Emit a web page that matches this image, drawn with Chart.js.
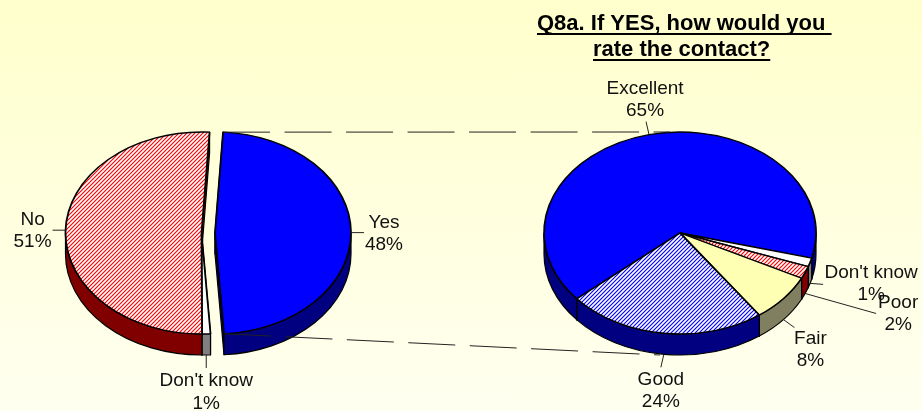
<!DOCTYPE html>
<html>
<head>
<meta charset="utf-8">
<style>
html,body{margin:0;padding:0;width:922px;height:411px;overflow:hidden;background:linear-gradient(180deg,#ffffcc 0%,#fffff0 100%);}
canvas{position:absolute;left:0;top:0;}
</style>
<script src="https://cdn.jsdelivr.net/npm/chart.js@4"></script>
</head>
<body>
<canvas id="left" width="922" height="411"></canvas>
<canvas id="right" width="922" height="411"></canvas>
<script>
// ---- data ----
const leftCategories = ["Yes", "Don't know", "No"];
const leftValues = [48, 1, 51];
const rightCategories = ["Excellent", "Don't know", "Poor", "Fair", "Good"];
const rightValues = [65.3, 1.4, 2, 7.7, 23.6];
const titleLines = ["Q8a. If YES, how would you ", "rate the contact?"];

// ---- appearance ----
const FONT = '"Liberation Sans", Arial, sans-serif';
const RX = 136, RY = 101, DEPTH = 21, K = RY / RX;
function hatch(color) {
  const c = document.createElement('canvas');
  c.width = c.height = 4;
  const g = c.getContext('2d');
  g.fillStyle = '#fff'; g.fillRect(0, 0, 4, 4);
  g.strokeStyle = color; g.lineWidth = 1.15;
  g.beginPath();
  g.moveTo(-1, 1); g.lineTo(1, -1);
  g.moveTo(-1, 5); g.lineTo(5, -1);
  g.moveTo(3, 5); g.lineTo(5, 3);
  g.stroke();
  const p = g.createPattern(c, 'repeat');
  p.setTransform(new DOMMatrix().scale(1, 1 / K));
  return p;
}
const BLUE = '#0000ff', NAVY = '#000080', MAROON = '#800000', GREY = '#808080';
const leftStyle = {
  center: [201.5, 233], rotation: 3.4,
  explode: [13.5, 0, 0],
  fill: [BLUE, '#ffffff', hatch('#ff0000')],
  side: [NAVY, GREY, MAROON],
  labels: [
    { leader: [13, 0], text: [33, -10] },
    { leader: [0, 13], text: [0, 26] },
    { leader: [-13, 0], text: [-33, -10.5] }
  ]
};
const rightStyle = {
  center: [680, 233], rotation: 229.3,
  explode: [0, 0, 0, 0, 0],
  fill: [BLUE, '#ffffff', hatch('#ff0000'), '#ffffb3', hatch('#0000ff')],
  side: [NAVY, GREY, MAROON, '#808060', NAVY],
  labels: [
    { leader: [-3, -13], text: [-4, -46] },
    { leader: [13, 1], text: [61, -11] },
    { leader: [71, 20], text: [93, 9] },
    { leader: [11, 8], text: [27, 19] },
    { leader: [-3, 13], text: [-3, 25] }
  ]
};
function pct(values, i) { return Math.round(values[i]) + '%'; }

function explodeVec(style, arc, i) {
  const mid = (arc.startAngle + arc.endAngle) / 2, e = style.explode[i];
  return [Math.cos(mid) * e, Math.sin(mid) * e * K];
}
function pie3d(style, cats, vals) {
  return {
    id: 'pie3d',
    beforeDatasetDraw(chart, args) {
      const ctx = chart.ctx, arcs = args.meta.data;
      ctx.save();
      ctx.strokeStyle = '#000'; ctx.lineWidth = 1.2; ctx.lineJoin = 'round';
      // cut walls
      arcs.forEach((arc, i) => {
        const [ex, ey] = explodeVec(style, arc, i);
        const cx = arc.x + ex, cy = arc.y + ey;
        [arc.startAngle, arc.endAngle].forEach(a => {
          const px = cx + RX * Math.cos(a), py = cy + RY * Math.sin(a);
          ctx.beginPath();
          ctx.moveTo(cx, cy); ctx.lineTo(px, py);
          ctx.lineTo(px, py + DEPTH); ctx.lineTo(cx, cy + DEPTH);
          ctx.closePath();
          ctx.fillStyle = style.side[i]; ctx.fill(); ctx.stroke();
        });
      });
      // rim bands
      arcs.forEach((arc, i) => {
        const [ex, ey] = explodeVec(style, arc, i);
        const cx = arc.x + ex, cy = arc.y + ey;
        for (let n = -1; n <= 2; n++) {
          const a0 = Math.max(arc.startAngle, n * 2 * Math.PI);
          const a1 = Math.min(arc.endAngle, n * 2 * Math.PI + Math.PI);
          if (a1 <= a0) continue;
          ctx.beginPath();
          ctx.ellipse(cx, cy, RX, RY, 0, a0, a1);
          ctx.lineTo(cx + RX * Math.cos(a1), cy + RY * Math.sin(a1) + DEPTH);
          ctx.ellipse(cx, cy + DEPTH, RX, RY, 0, a1, a0, true);
          ctx.closePath();
          ctx.fillStyle = style.side[i]; ctx.fill(); ctx.stroke();
        }
      });
      // top faces, drawn by the library's arc elements in a flattened space
      const c0 = arcs[0];
      ctx.translate(c0.x, c0.y); ctx.scale(1, K); ctx.translate(-c0.x, -c0.y);
      arcs.forEach((arc, i) => {
        const [ex, ey] = explodeVec(style, arc, i);
        ctx.save();
        ctx.translate(ex, ey / K);
        arc.draw(ctx);
        ctx.restore();
      });
      ctx.restore();
      return false;
    },
    afterDraw(chart) {
      const ctx = chart.ctx, arcs = chart.getDatasetMeta(0).data;
      ctx.save();
      ctx.fillStyle = '#111'; ctx.strokeStyle = '#222'; ctx.lineWidth = 1;
      ctx.font = '19px ' + FONT; ctx.textAlign = 'center'; ctx.textBaseline = 'middle';
      arcs.forEach((arc, i) => {
        const [ex, ey] = explodeVec(style, arc, i);
        const mid = (arc.startAngle + arc.endAngle) / 2;
        const sn = Math.sin(mid);
        const ax = arc.x + ex + RX * Math.cos(mid);
        const ay = arc.y + ey + RY * sn + (sn > 0.2 ? DEPTH : 0);
        const L = style.labels[i];
        ctx.beginPath(); ctx.moveTo(ax, ay); ctx.lineTo(ax + L.leader[0], ay + L.leader[1]); ctx.stroke();
        ctx.fillText(cats[i], ax + L.text[0], ay + L.text[1]);
        ctx.fillText(pct(vals, i), ax + L.text[0], ay + L.text[1] + 22.5);
      });
      ctx.restore();
    }
  };
}
function makeChart(id, cats, vals, style, padding, extra) {
  return new Chart(document.getElementById(id), {
    type: 'pie',
    data: { labels: cats, datasets: [{ data: vals, backgroundColor: style.fill, borderColor: '#000', borderWidth: 1.8 }] },
    options: {
      responsive: false, animation: false, radius: RX, rotation: style.rotation,
      layout: { padding },
      events: [],
      plugins: { legend: { display: false }, tooltip: { enabled: false } }
    },
    plugins: [pie3d(style, cats, vals)].concat(extra || [])
  });
}

const leftChart = makeChart('left', leftCategories, leftValues, leftStyle,
  { left: 0, right: 519, top: 55, bottom: 0 });

const overlay = {
  id: 'overlay',
  afterDraw(chart) {
    const ctx = chart.ctx;
    const yes = leftChart.getDatasetMeta(0).data[0];
    const pie = chart.getDatasetMeta(0).data[0];
    const [ex, ey] = explodeVec(leftStyle, yes, 0);
    const x0 = yes.x + ex, y0 = yes.y + ey;
    ctx.save();
    ctx.strokeStyle = '#222'; ctx.lineWidth = 1; ctx.setLineDash([47, 14.5]);
    ctx.beginPath();
    ctx.moveTo(x0 + RX * Math.cos(yes.startAngle), y0 + RY * Math.sin(yes.startAngle));
    ctx.lineTo(pie.x - 10, pie.y - RY);
    ctx.moveTo(x0 + RX * Math.cos(yes.endAngle), y0 + RY * Math.sin(yes.endAngle));
    ctx.lineTo(pie.x - 20, pie.y + RY + DEPTH);
    ctx.stroke();
    ctx.setLineDash([]);
    // title
    ctx.fillStyle = '#000';
    ctx.font = 'bold 22px ' + FONT; ctx.textAlign = 'left'; ctx.textBaseline = 'alphabetic';
    const starts = [537, 593], bases = [30, 56];
    titleLines.forEach((t, i) => {
      ctx.fillText(t, starts[i], bases[i]);
      ctx.fillRect(starts[i], bases[i] + 3, ctx.measureText(t).width, 2);
    });
    ctx.restore();
  }
};
const rightChart = makeChart('right', rightCategories, rightValues, rightStyle,
  { left: 438, right: 0, top: 55, bottom: 0 }, [overlay]);
</script>
</body>
</html>
